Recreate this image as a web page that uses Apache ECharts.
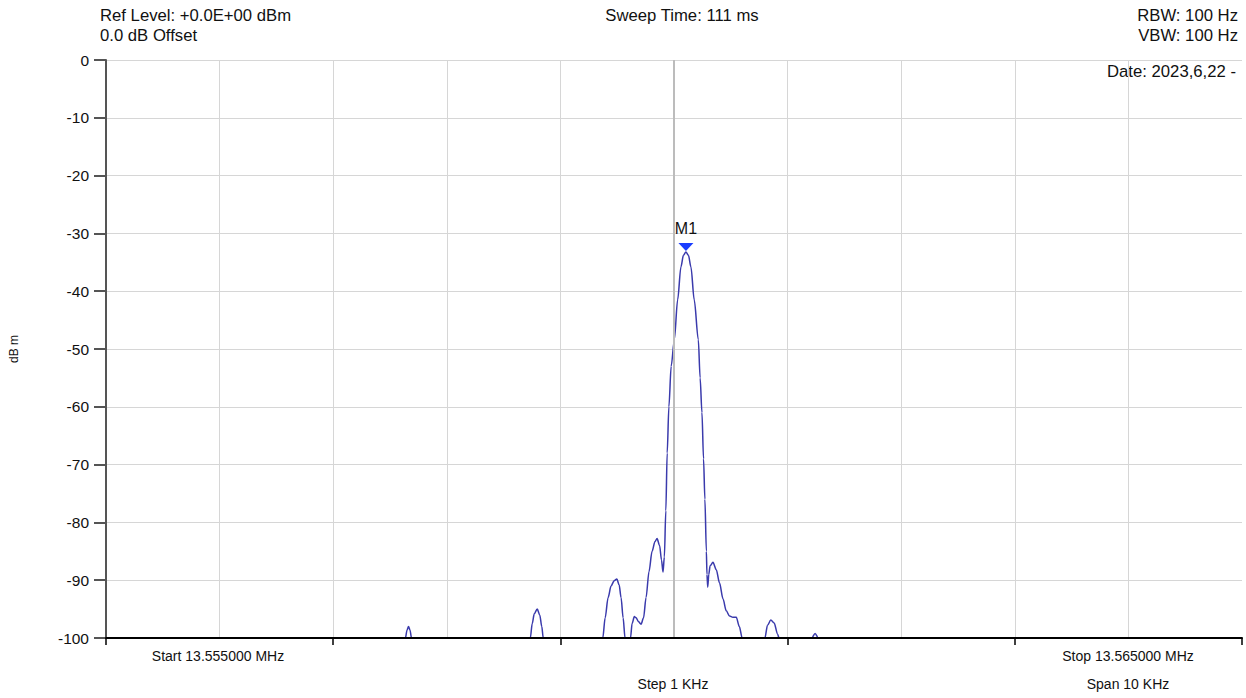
<!DOCTYPE html>
<html>
<head>
<meta charset="utf-8">
<script src="https://cdn.jsdelivr.net/npm/echarts@6/dist/echarts.min.js"></script>
<style>
html,body{margin:0;padding:0;background:#fff;}
#chart{width:1246px;height:698px;}
</style>
</head>
<body>
<div id="chart"></div>
<script>
// Frequency offset from start (kHz) and measured level (dBm); values below -100 are off-scale
const freqKHz = [
  0, 2.60, 2.636, 2.650, 2.663, 2.676, 2.689, 2.72,
  3.70, 3.735, 3.752, 3.770, 3.796, 3.818, 3.836, 3.849, 3.88,
  4.35, 4.373, 4.394, 4.420, 4.446, 4.473, 4.497, 4.517, 4.534, 4.552, 4.569, 4.585,
  4.600, 4.617, 4.631, 4.651, 4.666, 4.688, 4.710, 4.732, 4.754, 4.780, 4.807, 4.833, 4.851, 4.873, 4.890, 4.903,
  4.915, 4.928, 4.940, 4.955, 4.975, 5.003, 5.032, 5.061, 5.083, 5.105, 5.127, 5.149, 5.178, 5.214,
  5.230, 5.246, 5.260, 5.272, 5.285, 5.290, 5.297, 5.306, 5.318, 5.343, 5.372, 5.401, 5.431, 5.460,
  5.489, 5.518, 5.548, 5.575, 5.600, 5.62,
  5.78, 5.800, 5.823, 5.852, 5.882, 5.911, 5.925, 5.94,
  6.20, 6.213, 6.242, 6.27, 6.29, 10
];
const levelDbm = [
  -110, -110, -100, -98.6, -98.0, -98.6, -100, -110,
  -110, -100, -97.5, -95.8, -95.0, -96.0, -98.0, -100, -110,
  -110, -100, -96.5, -93.0, -91.0, -90.1, -89.8, -90.8, -93.0, -96.5, -100, -110,
  -110, -100, -97.5, -96.3, -96.5, -97.2, -97.6, -96.5, -93.0, -88.5, -85.0, -83.3, -82.8, -84.0, -86.5, -88.6,
  -86.0, -78.0, -68.0, -60.0, -53.0, -48.4, -41.5, -35.8, -33.8, -33.2, -33.8, -35.8, -41.5, -48.4,
  -55.0, -61.0, -69.0, -76.0, -85.0, -89.0, -91.2, -89.0, -87.5, -86.9, -88.2, -90.5, -93.2, -95.3,
  -96.2, -96.4, -96.4, -98.0, -100, -110,
  -110, -100, -97.8, -96.9, -97.4, -99.3, -100, -110,
  -110, -100, -99.2, -100, -110, -110
];
const markerName = ['M1'];
const markerFreq = [5.105];
const markerLevel = [-33.2];
const centerKHz = [5];
const yTicks = [0, -10, -20, -30, -40, -50, -60, -70, -80, -90, -100];
const headerLeft = ['Ref Level: +0.0E+00 dBm', '0.0 dB Offset'];
const headerCenter = ['Sweep Time: 111 ms'];
const headerRight = ['RBW: 100 Hz', 'VBW: 100 Hz'];
const dateText = ['Date: 2023,6,22 -'];
const footer = ['Start 13.555000 MHz', 'Stop 13.565000 MHz', 'Step 1 KHz', 'Span 10 KHz'];

const FONT = 'Liberation Sans, Arial, sans-serif';
const chart = echarts.init(document.getElementById('chart'), null, {renderer: 'svg'});
const data = freqKHz.map((f, i) => [f, levelDbm[i]]);

function txt(text, x, y, align, size) {
  return {type: 'text', x: x, y: y, silent: true,
    style: {text: text, fill: '#111', font: (size || 16.7) + 'px ' + FONT, textAlign: align, textVerticalAlign: 'middle'}};
}

chart.setOption({
  animation: false,
  backgroundColor: '#fff',
  grid: {left: 104, right: 4, top: 60, bottom: 60, containLabel: false},
  xAxis: [
    {type: 'value', min: 0, max: 10, interval: 2, position: 'bottom',
      axisLine: {show: true, onZero: false, lineStyle: {color: '#000', width: 2}},
      axisTick: {show: true, length: 7, lineStyle: {color: '#000', width: 1.5}},
      axisLabel: {show: false}, splitLine: {show: false}, z: 5},
    {type: 'value', min: 0, max: 10, interval: 1, position: 'top',
      axisLine: {show: false}, axisTick: {show: false}, axisLabel: {show: false},
      splitLine: {show: true, showMaxLine: false, lineStyle: {color: '#d6d6d6', width: 1}}}
  ],
  yAxis: {type: 'value', min: yTicks[yTicks.length - 1], max: yTicks[0], interval: 10,
    name: 'dB m', nameLocation: 'middle', nameGap: 86, nameRotate: 90,
    nameTextStyle: {color: '#111', fontSize: 12, fontFamily: FONT},
    axisLine: {show: true, onZero: false, lineStyle: {color: '#555', width: 2}},
    axisTick: {show: true, length: 12, lineStyle: {color: '#555', width: 2}},
    axisLabel: {color: '#111', fontSize: 15.5, fontFamily: FONT, margin: 17},
    splitLine: {show: true, lineStyle: {color: '#d6d6d6', width: 1}}},
  series: [{
    type: 'line', xAxisIndex: 0, data: data, showSymbol: false, smooth: 0.3, smoothMonotone: 'x',
    lineStyle: {color: '#3a3aac', width: 1.5}, clip: true, z: 3,
    markLine: {silent: true, symbol: ['none', 'none'], label: {show: false},
      lineStyle: {color: '#bcbcbc', width: 2, type: 'solid'},
      data: centerKHz.map(c => ({xAxis: c}))},
    markPoint: {silent: true,
      symbol: 'path://M0,0L14,0L7,8Z', symbolSize: [15, 8], symbolOffset: [0, -5],
      itemStyle: {color: '#1a3dff'},
      label: {show: true, position: 'top', distance: 6, color: '#111', fontSize: 16, fontFamily: FONT,
        formatter: p => p.name},
      data: markerName.map((n, i) => ({name: n, coord: [markerFreq[i], markerLevel[i]]}))}
  }],
  graphic: [
    txt(headerLeft[0], 100, 15, 'left'),
    txt(headerLeft[1], 100, 35, 'left'),
    txt(headerCenter[0], 682, 15, 'center'),
    txt(headerRight[0], 1238, 15, 'right'),
    txt(headerRight[1], 1238, 35, 'right'),
    txt(dateText[0], 1236, 71, 'right'),
    txt(footer[0], 218, 656, 'center', 14),
    txt(footer[1], 1128, 656, 'center', 14),
    txt(footer[2], 673, 684, 'center', 14),
    txt(footer[3], 1128, 684, 'center', 14)
  ]
});
</script>
</body>
</html>
